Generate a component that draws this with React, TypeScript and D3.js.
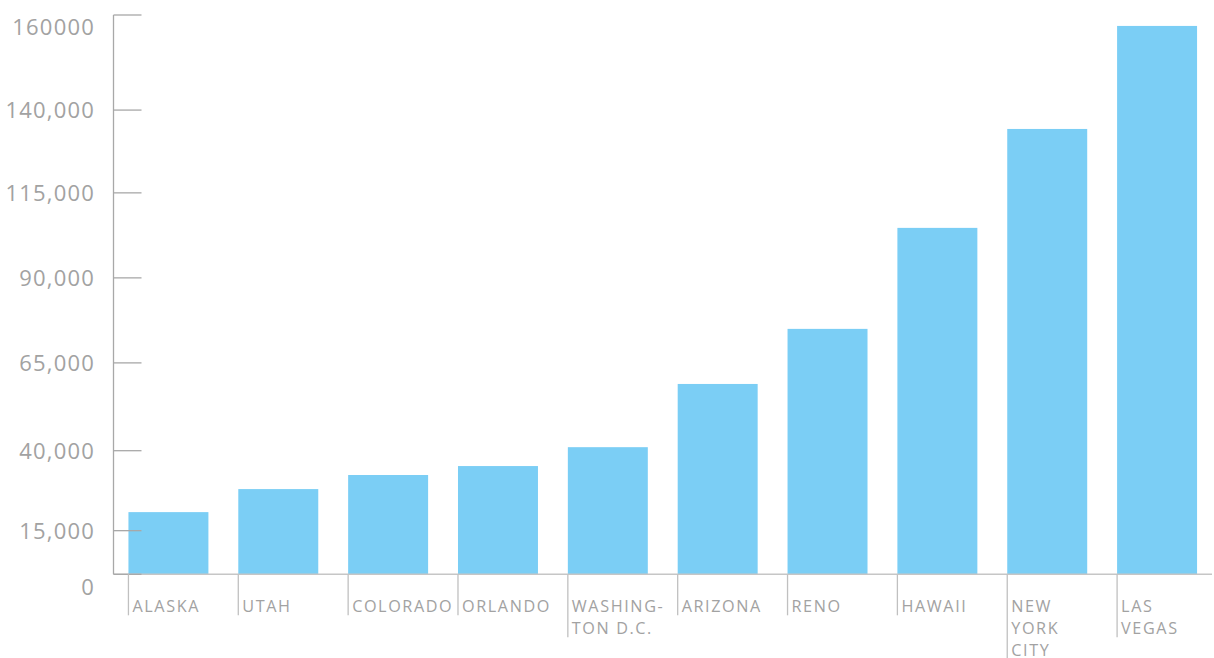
import React from "react";
import * as d3 from "d3";

const cities: string[][] = [
  ["ALASKA"],
  ["UTAH"],
  ["COLORADO"],
  ["ORLANDO"],
  ["WASHING-", "TON D.C."],
  ["ARIZONA"],
  ["RENO"],
  ["HAWAII"],
  ["NEW", "YORK", "CITY"],
  ["LAS", "VEGAS"],
];
const values: number[] = [20800, 28000, 32400, 35200, 41000, 59000, 75000, 104700, 134300, 157700];

const tickValues: number[] = [0, 15000, 40000, 65000, 90000, 115000, 140000, 160000];
const tickLabels: string[] = ["0", "15,000", "40,000", "65,000", "90,000", "115,000", "140,000", "160000"];
// relative height of each tick along the axis (the axis is not evenly scaled)
const tickFractions: number[] = [0, 0.078, 0.221, 0.378, 0.53, 0.682, 0.83, 1];

const W = 1214;
const H = 658;
const margin = { top: 15, left: 113.5, right: 2, bottom: 83.7 };

export default function App() {
  const plotTop = margin.top;
  const plotBottom = H - margin.bottom;
  const ph = plotBottom - plotTop;
  const y = d3
    .scaleLinear()
    .domain(tickValues)
    .range(tickFractions.map((f) => plotBottom - f * ph));
  const keys = cities.map((c) => c.join(" "));
  const x = d3
    .scaleBand<string>()
    .domain(keys)
    .range([margin.left, W - margin.right])
    .paddingInner(0.272)
    .paddingOuter(0.136);

  const font = "'Open Sans', sans-serif";
  const textColor = "#a2a2a2";

  return (
    <svg
      width={W}
      height={H}
      style={{ position: "absolute", left: 0, top: 0, background: "#fff" }}
    >
      {/* bars */}
      {values.map((v, i) => (
        <rect
          key={keys[i]}
          x={x(keys[i])}
          y={y(v)}
          width={x.bandwidth()}
          height={plotBottom - y(v)}
          fill="#7BCEF5"
        />
      ))}
      {/* baseline */}
      <line x1={margin.left} x2={W - margin.right} y1={plotBottom} y2={plotBottom} stroke="#c6c6c6" strokeWidth={1.5} />
      {/* y axis */}
      <line x1={margin.left} x2={margin.left} y1={plotTop} y2={plotBottom} stroke="#a8a8a8" strokeWidth={1.3} />
      {tickValues.map((t, i) => {
        const ty = y(t);
        const dy = i === 0 ? 13 : i === tickValues.length - 1 ? 12 : 0;
        return (
          <g key={t}>
            <line x1={margin.left} x2={margin.left + 28} y1={ty} y2={ty} stroke="#a8a8a8" strokeWidth={1.3} />
            <text
              x={95}
              y={ty + dy}
              dy="0.36em"
              textAnchor="end"
              fontFamily={font}
              fontWeight={400}
              fontSize={22}
              letterSpacing={1.2}
              fill={textColor}
            >
              {tickLabels[i]}
            </text>
          </g>
        );
      })}
      {/* category labels */}
      {cities.map((lines, i) => {
        const x0 = x(keys[i]) as number;
        return (
          <g key={keys[i]}>
            <line
              x1={x0}
              x2={x0}
              y1={plotBottom}
              y2={plotBottom + 41 + 22 * (lines.length - 1)}
              stroke="#c0c0c0"
              strokeWidth={1.3}
            />
            {lines.map((l, j) => (
              <text
                key={j}
                x={x0 + 4}
                y={611.7 + 22 * j}
                fontFamily={font}
                fontWeight={400}
                fontSize={16.2}
                letterSpacing={1.6}
                fill={textColor}
              >
                {l}
              </text>
            ))}
          </g>
        );
      })}
    </svg>
  );
}
